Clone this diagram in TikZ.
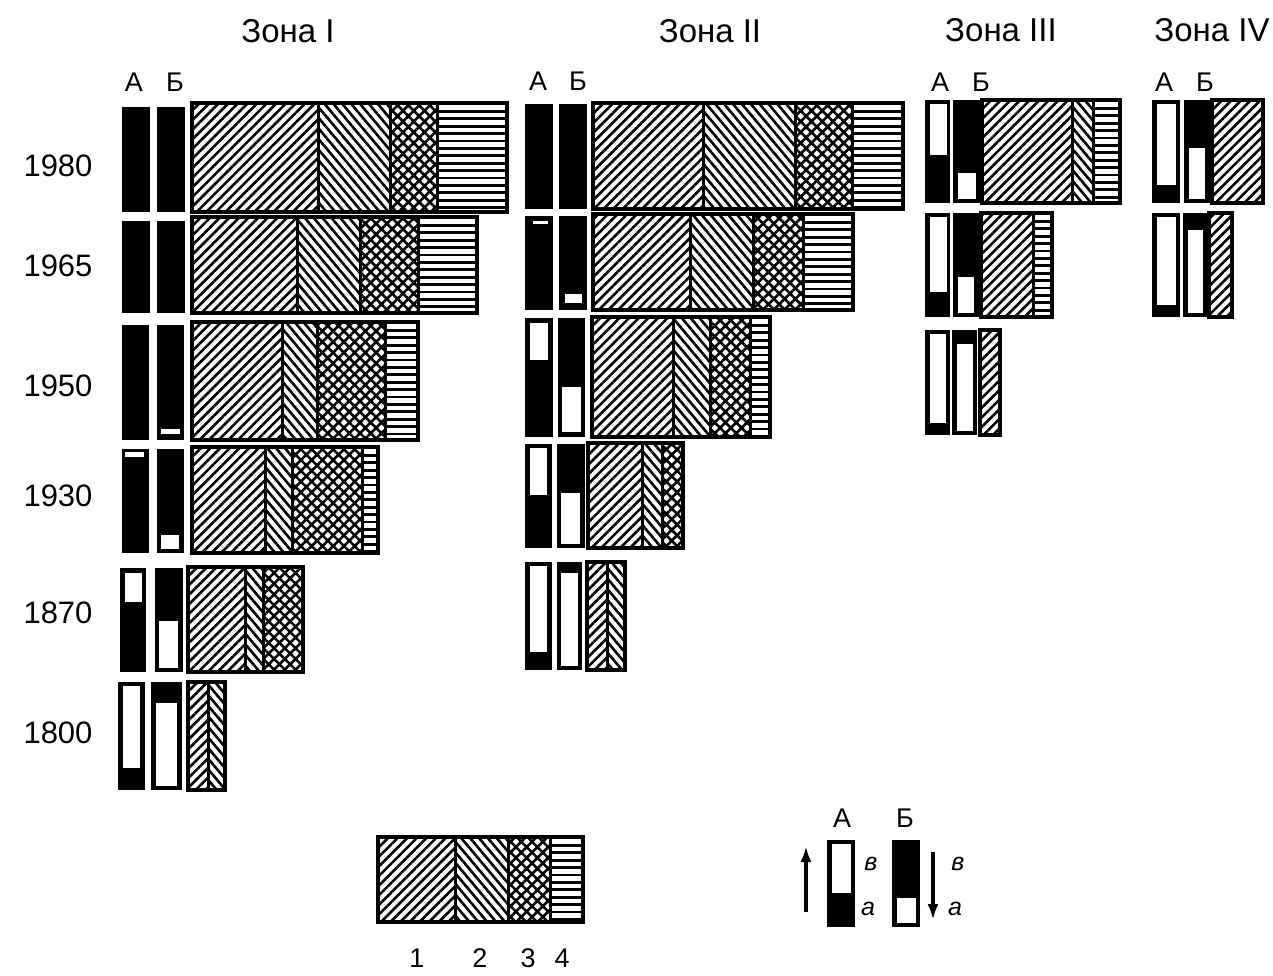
\documentclass[tikz,border=0pt]{standalone}
\usepackage{fontspec}
\setmainfont{Liberation Sans}
\usetikzlibrary{patterns.meta,arrows.meta}
\tikzset{
  pone/.style={pattern={Lines[angle=45,distance=6.8pt,line width=2.6pt]}},
  ptwo/.style={pattern={Lines[angle=-50,distance=6.8pt,line width=2.6pt]}},
  pthree/.style={pattern={Hatch[angle=45,distance=7.6pt,line width=2.6pt]}},
  hline/.style={draw=black,line width=2.7pt},
  boxline/.style={draw=black,line width=3.6pt,line join=miter},
  divline/.style={draw=black,line width=3pt},
  ztitle/.style={font=\fontsize{33}{36}\selectfont,inner sep=0pt},
  yearlab/.style={font=\fontsize{31}{34}\selectfont,inner sep=0pt},
  ablab/.style={font=\fontsize{27}{30}\selectfont,inner sep=0pt},
  numlab/.style={font=\fontsize{27}{30}\selectfont,inner sep=0pt},
  smlab/.style={font=\itshape\fontsize{25}{28}\selectfont,inner sep=0pt},
  arr/.style={line width=3.4pt,-{Latex[length=16pt,width=11pt]}}
}
% black bar
\newcommand\blkbar[4]{\fill[black] (#1,#2) rectangle (#3,#4);}
% white inner part
\newcommand\whtpart[4]{\fill[white] (#1,#2) rectangle (#3,#4);}
% pattern section
\newcommand\psect[5]{\path[#1] (#2,#3) rectangle (#4,#5);}
% horizontal-lines section (pattern 4)
\newcommand\hsect[4]{\begin{scope}\clip (#1,#2) rectangle (#3,#4);
  \foreach \yy in {1,8.4,...,130} {\draw[hline] (#1,{#2+\yy}) -- (#3,{#2+\yy});}
  \end{scope}}
% frame
\newcommand\frm[4]{\draw[boxline] (#1,#2) rectangle (#3,#4);}
\newcommand\dvd[3]{\draw[divline] (#1,#2) -- (#1,#3);}
\begin{document}
\begin{tikzpicture}[x=1pt,y=-1pt]
\useasboundingbox (0,0) rectangle (1273,976);
\fill[white] (0,0) rectangle (1273,976);

% ---------- titles ----------
\node[ztitle] (t1) at (288,31) {Зона I};
\node[ztitle] (t2) at (710,31) {Зона II};
\node[ztitle] (t3) at (1001,30) {Зона III};
\node[ztitle] (t4) at (1212,30) {Зона IV};

\node[ablab] (a1) at (134,82) {А};
\node[ablab] (b1) at (175,82) {Б};
\node[ablab] (a2) at (538,81) {А};
\node[ablab] (b2) at (578,81) {Б};
\node[ablab] (a3) at (940,82) {А};
\node[ablab] (b3) at (981,82) {Б};
\node[ablab] (a4) at (1164,82) {А};
\node[ablab] (b4) at (1205,82) {Б};

% ---------- years ----------
\node[yearlab] (y1980) at (58,166) {1980};
\node[yearlab] (y1965) at (58,266) {1965};
\node[yearlab] (y1950) at (58,386) {1950};
\node[yearlab] (y1930) at (58,496) {1930};
\node[yearlab] (y1870) at (58,613) {1870};
\node[yearlab] (y1800) at (58,733) {1800};

% ================= Zone I =================
% 1980
\blkbar{122}{107}{150}{212}
\blkbar{157}{107}{185}{212}
\psect{pone}{192}{103}{318}{212}
\psect{ptwo}{318}{103}{390}{212}
\psect{pthree}{390}{103}{437}{212}
\hsect{437}{103}{507}{212}
\dvd{318}{103}{212}\dvd{390}{103}{212}\dvd{437}{103}{212}
\frm{192}{103}{507}{212}
% 1965
\blkbar{122}{221}{150}{313}
\blkbar{157}{221}{185}{313}
\psect{pone}{192}{217}{297}{313}
\psect{ptwo}{297}{217}{360}{313}
\psect{pthree}{360}{217}{418}{313}
\hsect{418}{217}{477}{313}
\dvd{297}{217}{313}\dvd{360}{217}{313}\dvd{418}{217}{313}
\frm{192}{217}{477}{313}
% 1950
\blkbar{122}{325}{149}{440}
\blkbar{157}{325}{184}{440}
\whtpart{161}{429}{180}{434}
\psect{pone}{192}{322}{282}{440}
\psect{ptwo}{282}{322}{317}{440}
\psect{pthree}{317}{322}{385}{440}
\hsect{385}{322}{418}{440}
\dvd{282}{322}{440}\dvd{317}{322}{440}\dvd{385}{322}{440}
\frm{192}{322}{418}{440}
% 1930
\blkbar{122}{449}{149}{553}
\whtpart{125}{452}{144}{457}
\blkbar{157}{449}{184}{553}
\whtpart{161}{535}{179}{549}
\psect{pone}{192}{447}{265}{553}
\psect{ptwo}{265}{447}{292}{553}
\psect{pthree}{292}{447}{362}{553}
\hsect{362}{447}{378}{553}
\dvd{265}{447}{553}\dvd{292}{447}{553}\dvd{362}{447}{553}
\frm{192}{447}{378}{553}
% 1870
\blkbar{120}{568}{146}{672}
\whtpart{125}{573}{142}{602}
\blkbar{155}{568}{183}{672}
\whtpart{159}{621}{178}{668}
\psect{pone}{188}{567}{245}{672}
\psect{ptwo}{245}{567}{263}{672}
\psect{pthree}{263}{567}{303}{672}
\dvd{245}{567}{672}\dvd{263}{567}{672}
\frm{188}{567}{303}{672}
% 1800
\blkbar{118}{682}{145}{790}
\whtpart{123}{686}{140}{768}
\blkbar{151}{682}{182}{790}
\whtpart{156}{703}{177}{786}
\psect{pone}{188}{682}{208}{790}
\psect{ptwo}{208}{682}{225}{790}
\dvd{208}{682}{790}
\frm{188}{682}{225}{790}

% ================= Zone II =================
% 1980
\blkbar{525}{104}{553}{209}
\blkbar{559}{104}{587}{209}
\psect{pone}{593}{103}{703}{209}
\psect{ptwo}{703}{103}{795}{209}
\psect{pthree}{795}{103}{852}{209}
\hsect{852}{103}{903}{209}
\dvd{703}{103}{209}\dvd{795}{103}{209}\dvd{852}{103}{209}
\frm{593}{103}{903}{209}
% 1965
\blkbar{525}{216}{553}{310}
\whtpart{533}{221}{548}{224}
\blkbar{559}{216}{587}{310}
\whtpart{565}{294}{582}{303}
\psect{pone}{593}{214}{690}{310}
\psect{ptwo}{690}{214}{753}{310}
\psect{pthree}{753}{214}{803}{310}
\hsect{803}{214}{853}{310}
\dvd{690}{214}{310}\dvd{753}{214}{310}\dvd{803}{214}{310}
\frm{593}{214}{853}{310}
% 1950
\blkbar{525}{318}{553}{437}
\whtpart{530}{323}{548}{360}
\blkbar{558}{318}{585}{437}
\whtpart{562}{387}{581}{432}
\psect{pone}{592}{317}{673}{437}
\psect{ptwo}{673}{317}{710}{437}
\psect{pthree}{710}{317}{750}{437}
\hsect{750}{317}{770}{437}
\dvd{673}{317}{437}\dvd{710}{317}{437}\dvd{750}{317}{437}
\frm{592}{317}{770}{437}
% 1930
\blkbar{525}{444}{552}{548}
\whtpart{530}{448}{547}{495}
\blkbar{557}{444}{585}{548}
\whtpart{561}{493}{580}{544}
\psect{pone}{588}{443}{642}{548}
\psect{ptwo}{642}{443}{662}{548}
\psect{pthree}{662}{443}{683}{548}
\dvd{642}{443}{548}\dvd{662}{443}{548}
\frm{588}{443}{683}{548}
% 1870
\blkbar{525}{562}{552}{670}
\whtpart{530}{566}{547}{652}
\blkbar{557}{562}{582}{670}
\whtpart{561}{573}{578}{666}
\psect{pone}{587}{562}{607}{670}
\psect{ptwo}{607}{562}{625}{670}
\dvd{607}{562}{670}
\frm{587}{562}{625}{670}

% ================= Zone III =================
% 1980
\blkbar{925}{100}{950}{203}
\whtpart{930}{104}{947}{155}
\blkbar{953}{100}{982}{203}
\whtpart{958}{173}{976}{199}
\psect{pone}{982}{100}{1072}{203}
\psect{ptwo}{1072}{100}{1093}{203}
\hsect{1093}{100}{1120}{203}
\dvd{1072}{100}{203}\dvd{1093}{100}{203}
\frm{982}{100}{1120}{203}
% 1965
\blkbar{925}{213}{950}{317}
\whtpart{930}{217}{947}{292}
\blkbar{953}{213}{979}{317}
\whtpart{958}{277}{974}{313}
\psect{pone}{981}{213}{1033}{317}
\hsect{1033}{213}{1052}{317}
\dvd{1033}{213}{317}
\frm{981}{213}{1052}{317}
% 1950
\blkbar{925}{330}{950}{435}
\whtpart{930}{334}{946}{423}
\blkbar{952}{330}{977}{435}
\whtpart{957}{344}{973}{431}
\psect{pone}{980}{330}{1000}{435}
\frm{980}{330}{1000}{435}

% ================= Zone IV =================
% 1980
\blkbar{1152}{100}{1180}{203}
\whtpart{1157}{104}{1176}{185}
\blkbar{1184}{100}{1210}{203}
\whtpart{1189}{148}{1205}{199}
\psect{pone}{1212}{100}{1263}{203}
\frm{1212}{100}{1263}{203}
% 1965
\blkbar{1152}{213}{1180}{317}
\whtpart{1157}{217}{1176}{305}
\blkbar{1183}{213}{1207}{317}
\whtpart{1188}{230}{1203}{313}
\psect{pone}{1209}{213}{1232}{317}
\frm{1209}{213}{1232}{317}

% ================= Legend =================
\psect{pone}{378}{837}{455}{922}
\psect{ptwo}{455}{837}{508}{922}
\psect{pthree}{508}{837}{550}{922}
\hsect{550}{837}{583}{922}
\dvd{455}{837}{922}\dvd{508}{837}{922}\dvd{550}{837}{922}
\frm{378}{837}{583}{922}
\node[numlab] (n1) at (417,958) {1};
\node[numlab] (n2) at (480,958) {2};
\node[numlab] (n3) at (528,958) {3};
\node[numlab] (n4) at (562,958) {4};

\node[ablab] (la) at (842,818) {А};
\node[ablab] (lb) at (905,818) {Б};
\blkbar{827}{840}{855}{927}
\whtpart{832}{844}{851}{893}
\blkbar{892}{840}{920}{927}
\whtpart{897}{898}{916}{923}
\coordinate (aup0) at (806,912);
\coordinate (aup1) at (806,846);
\draw[arr] (aup0) -- (aup1);
\coordinate (adn0) at (933,852);
\coordinate (adn1) at (933,920);
\draw[arr] (adn0) -- (adn1);
\node[smlab] (lav) at (871,864) {в};
\node[smlab] (laa) at (868,909) {а};
\node[smlab] (lbv) at (958,864) {в};
\node[smlab] (lba) at (955,909) {а};
\end{tikzpicture}
\end{document}
